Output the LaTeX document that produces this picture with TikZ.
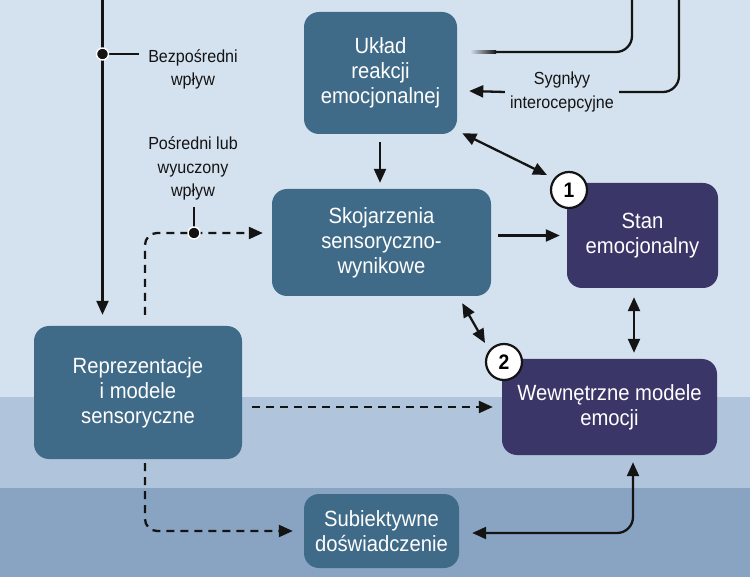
\documentclass[tikz,border=0pt]{standalone}
\usepackage{fontspec}
\setmainfont{Liberation Sans}[FakeStretch=0.92]
\usetikzlibrary{arrows.meta}

\definecolor{bgtop}{RGB}{212,225,239}
\definecolor{bgmid}{RGB}{176,196,220}
\definecolor{bgbot}{RGB}{136,164,194}
\definecolor{tealbox}{RGB}{64,107,136}
\definecolor{violetbox}{RGB}{58,54,104}
\definecolor{ink}{RGB}{20,20,20}

\begin{document}
\begin{tikzpicture}[x=1pt,y=-1pt,
  box/.style={rounded corners=15pt, inner sep=0pt, align=center, text=white,
    font=\fontsize{22}{25}\selectfont},
  tealnode/.style={box, fill=tealbox},
  violetnode/.style={box, fill=violetbox},
  lbl/.style={inner sep=0pt, align=center, text=ink,
    font=\fontsize{17.5}{23.5}\selectfont},
  badge/.style={circle, draw=ink, line width=2.2pt, fill=white, minimum size=36pt,
    inner sep=0pt, font=\fontsize{21}{21}\selectfont\bfseries},
  conn/.style={draw=ink, line width=2.3pt},
  tip/.style={-{Triangle[length=14pt,width=12pt]}},
  twotips/.style={{Triangle[length=14pt,width=12pt]}-{Triangle[length=14pt,width=12pt]}},
  dashy/.style={dash pattern=on 8pt off 6pt},
  joint/.style={circle, fill=ink, draw=white, line width=1.4pt, minimum size=12pt, inner sep=0pt}
]
\useasboundingbox (0,0) rectangle (750,577);

% background bands
\fill[bgtop] (0,0) rectangle (750,397);
\fill[bgmid] (0,397) rectangle (750,488);
\fill[bgbot] (0,488) rectangle (750,577);

% boxes
\node[tealnode, minimum width=153pt, minimum height=122pt] (ukl) at (380.5,73)
  {Układ\\reakcji\\emocjonalnej};
\node[tealnode, minimum width=219pt, minimum height=107pt] (sko) at (381.5,242.5)
  {Skojarzenia\\sensoryczno-\\wynikowe};
\node[violetnode, minimum width=151pt, minimum height=105pt] (stan) at (642.5,235.5)
  {Stan\\emocjonalny};
\node[violetnode, minimum width=215pt, minimum height=96pt] (wew) at (609.5,407)
  {Wewnętrzne modele\\emocji};
\node[tealnode, minimum width=208pt, minimum height=133pt] (rep) at (138,392.5)
  {Reprezentacje\\i modele\\sensoryczne};
\node[tealnode, minimum width=155pt, minimum height=74pt] (sub) at (381.5,531)
  {Subiektywne\\doświadczenie};

% labels
\node[lbl] (bez) at (193,69.5) {Bezpośredni\\wpływ};
\node[lbl] (pos) at (193,168.5) {Pośredni lub\\wyuczony\\wpływ};
\node[lbl, inner xsep=5pt] (syg) at (562,92) {Sygnłyy\\interocepcyjne};

% numbered badges
\node[badge] (c1) at (569,190) {1};
\node[badge] (c2) at (504,362) {2};

% free ends at the top edge
\coordinate (topA) at (102.5,-2);
\coordinate (topB) at (632,-2);
\coordinate (topC) at (679,-2);
\coordinate (fadeEnd) at (496,52);
\coordinate (dot1) at (102.5,54);
\coordinate (dot2) at (194,233);

% direct influence
\draw[conn, tip] (topA) -- ([shift={(-35.5,-11)}]rep.north);
\draw[conn] (dot1) -- ([xshift=-9pt]bez.west |- dot1);

% indirect / learned influence
\draw[conn, dashy, tip, rounded corners=12pt]
  ([shift={(7,-11)}]rep.north) |- ([xshift=-9pt]sko.west |- dot2);
\draw[conn] ([shift={(1,7)}]pos.south) -- (dot2);

% lines entering from the top
\draw[conn, rounded corners=16pt] (topB) |- (fadeEnd);
\shade[left color=bgtop, right color=ink] (470,50.85) rectangle (fadeEnd |- 0,53.15);
\draw[conn, rounded corners=16pt] (topC) |- (syg.east);
\draw[conn, tip] (syg.west) -- ([shift={(12,18)}]ukl.east);

% main flow
\draw[conn, tip] ([shift={(-0.5,8)}]ukl.south) -- ([shift={(-1.5,-6)}]sko.north);
\draw[conn, tip] ([xshift=7pt]sko.east |- stan.west) -- ([xshift=-7pt]stan.west);
\draw[conn, twotips] ([shift={(5,-1)}]ukl.south east) -- ([shift={(-22,-15)}]c1.center);
\draw[conn, twotips] ([shift={(-29,7)}]sko.south east) -- ([shift={(-19,-19)}]c2.center);
\draw[conn, twotips] ([shift={(-8.5,9)}]stan.south) -- ([shift={(24.5,-6)}]wew.north);
\draw[conn, dashy, tip] ([xshift=10pt]rep.east |- wew.west) -- ([xshift=-9pt]wew.west);
\draw[conn, dashy, tip, rounded corners=12pt]
  ([shift={(7,4)}]rep.south) |- ([xshift=-11pt]sub.west);
\draw[conn, twotips, rounded corners=16pt]
  ([shift={(13,2)}]sub.east) -| ([shift={(23.5,7)}]wew.south);

% junction dots
\node[joint] at (dot1) {};
\node[joint] at (dot2) {};
\end{tikzpicture}
\end{document}
